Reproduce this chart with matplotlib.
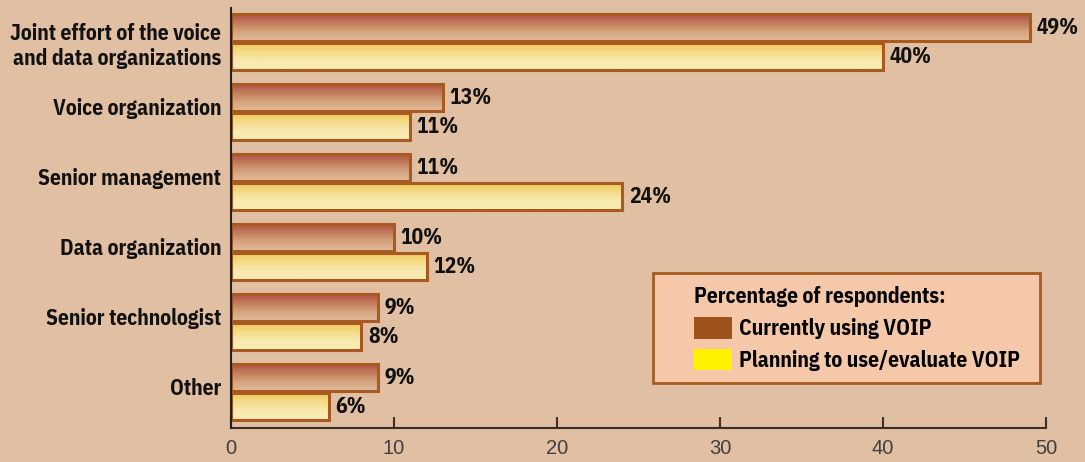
import matplotlib
matplotlib.use("Agg")
import matplotlib.pyplot as plt
import numpy as np
from matplotlib.colors import LinearSegmentedColormap
from matplotlib.patches import Patch, Rectangle

categories = ["Joint effort of the voice\nand data organizations", "Voice organization",
              "Senior management", "Data organization", "Senior technologist", "Other"]
current = [49, 13, 11, 10, 9, 9]
planning = [40, 11, 24, 12, 8, 6]
series_names = ["Currently using VOIP", "Planning to use/evaluate VOIP"]
legend_title = "Percentage of respondents:"
xticks = [0, 10, 20, 30, 40, 50]

bg = "#E0BFA3"
edge = "#A85A20"
cond = ["IBM Plex Sans Condensed", "DejaVu Sans"]

brown_cmap = LinearSegmentedColormap.from_list("br", ["#B2524A", "#C27E5C", "#D6A580", "#E0BA9C"])
yellow_cmap = LinearSegmentedColormap.from_list("yl", ["#EFC85A", "#F4DC8A", "#F8EAB0", "#F8ECB4"])

fig = plt.figure(figsize=(10.85, 4.62), dpi=100)
fig.patch.set_facecolor(bg)
ax = fig.add_axes([0.2129, 0.0736, 0.7512, 0.9091])
ax.set_facecolor(bg)

y = np.arange(len(categories))
h = 0.385
grad = np.linspace(0, 1, 64).reshape(-1, 1)


def gradient_bars(bars, cmap):
    for b in bars:
        x0, y0 = b.get_x(), b.get_y()
        w, hh = b.get_width(), b.get_height()
        # top of bar (smaller y, axis is inverted) gets the dark end
        ax.imshow(grad, cmap=cmap, aspect="auto", extent=[x0, x0 + w, y0 + hh, y0],
                  origin="upper", zorder=2, interpolation="bilinear")


b1 = ax.barh(y - h / 2 - 0.012, current, height=h, color="none", edgecolor=edge, linewidth=2.2, zorder=3)
b2 = ax.barh(y + h / 2 + 0.012, planning, height=h, color="none", edgecolor=edge, linewidth=2.2, zorder=3)
gradient_bars(b1, brown_cmap)
gradient_bars(b2, yellow_cmap)

for bars, vals in [(b1, current), (b2, planning)]:
    for b, v in zip(bars, vals):
        ax.text(v + 0.4, b.get_y() + b.get_height() / 2, f"{v}%", va="center", ha="left",
                fontsize=15.5, fontweight="bold", family=cond, color="#111111")

ax.set_xlim(0, 50)
ax.set_ylim(5.514, -0.486)
ax.set_xticks(xticks)
ax.set_xticklabels([str(t) for t in xticks], fontsize=14.5, color="#404040", family="Liberation Sans")
ax.tick_params(axis="x", direction="in", length=8, width=1.5, color="#3a3028", pad=8)
ax.set_yticks(y)
ax.set_yticklabels([])
ax.tick_params(axis="y", direction="in", length=14, width=1.8, color="#7A3E14")

# category labels: single-line ones sit a little above the group centre
for yi, cat in zip(y, categories):
    dy = -3 if "\n" in cat else 2.2
    ax.annotate(cat, (0, yi), xytext=(-7, dy), textcoords="offset points", ha="right", va="center",
                fontsize=15.5, fontweight="bold", family=cond, color="#111111", linespacing=1.2,
                annotation_clip=False)

for s in ["top", "right"]:
    ax.spines[s].set_visible(False)
ax.spines["left"].set_color("#222222")
ax.spines["left"].set_linewidth(1.5)
ax.spines["bottom"].set_color("#3a3028")
ax.spines["bottom"].set_linewidth(1.5)
ax.spines["left"].set_zorder(5)

# legend box drawn separately so it can be wider than the legend content
box = Rectangle((0.5178, 0.107), 0.4748, 0.262, transform=ax.transAxes, facecolor="#F4C8A8",
                edgecolor=edge, linewidth=2, zorder=6, clip_on=False)
ax.add_patch(box)

handles = [Patch(facecolor="#A0521C", edgecolor="none"), Patch(facecolor="#FFF200", edgecolor="none")]
leg = ax.legend(handles, series_names, title=legend_title, loc="upper left",
                bbox_to_anchor=(0.568, 0.337), frameon=False,
                prop={"family": cond, "weight": "bold", "size": 15.5},
                title_fontproperties={"family": cond, "weight": "bold", "size": 15.5},
                handlelength=1.75, handleheight=1.15, handletextpad=0.35, labelspacing=0.45,
                borderpad=0, borderaxespad=0)
leg._legend_box.align = "left"
leg.set_zorder(7)

fig.savefig("out.png", dpi=100, facecolor=bg)
